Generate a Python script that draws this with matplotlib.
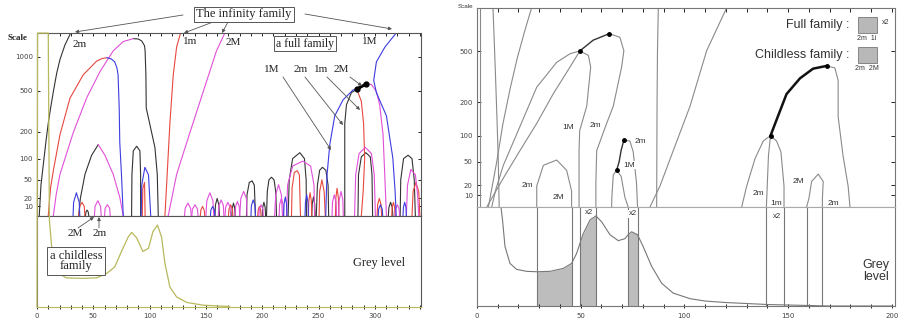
import numpy as np
import matplotlib.pyplot as plt
from matplotlib.patches import Rectangle
from matplotlib.ticker import FixedLocator, MultipleLocator, NullFormatter

W, H = 909, 324
SERIF = 'Liberation Serif'
SANS = 'Liberation Sans'

# ---------------- data: left figure (coloured scale-space) ----------------
scale_ticks_left = [10, 20, 50, 100, 200, 500, 1000]
scale_ticks_right = [10, 20, 50, 100, 200, 500]
grey_ticks_left = [0, 50, 100, 150, 200, 250, 300]
grey_ticks_right = [0, 50, 100, 150, 200]

# each curve: list of (grey level, scale)
left_black = [
    [(2, 0), (3.5, 40), (5.6, 84), (8, 160), (10, 245), (12, 340), (14.5, 490), (17.5, 720), (20.4, 950), (24.8, 1270), (29.9, 1610)],
    [(85.5, 1440), (90, 1430), (93, 1375), (95.5, 1250), (96, 1130), (96.7, 695), (97, 345), (100, 245), (104.7, 136), (106.8, 61), (107.7, 0)],
    [(37, 0), (38.5, 20), (42.6, 61), (48.5, 110), (54.4, 146)],
    [(84, 0), (84.3, 60), (85.5, 124), (88.5, 140), (91.4, 124), (92, 60), (92, 0)],
    [(273.3, 0), (273.3, 100), (273.3, 245), (274.8, 370), (279.2, 480), (284, 515)],
    [(285, 0), (285.5, 60), (288, 105), (292, 118), (296, 105), (297.5, 60), (298, 0)],
    [(322.5, 0), (323, 50), (325.5, 100), (329.5, 110), (333, 100), (335, 50), (336, 0)],
    [(203.8, 0), (204.5, 30), (206, 50), (208.2, 55), (210.5, 50), (212, 30), (212.7, 0)],
    [(223, 0), (224, 50), (227, 100), (233.4, 118), (237.5, 100), (239, 50), (239.3, 0)],
    [(248, 0), (249, 40), (251, 70), (253.5, 77), (256.5, 70), (258.5, 40), (259, 0)],
    [(186, 0), (186.5, 25), (188.5, 45), (191, 48), (193, 40), (194, 0)],
    [(43, 0), (43.5, 4), (44.5, 6), (45.5, 4), (46, 0)],
    [(158, 0), (158.5, 12), (160, 20), (161.5, 12), (162, 0)],
    [(173, 0), (173.4, 8), (174.5, 14), (175.6, 8), (176, 0)],
    [(200, 0), (200.4, 9), (201.5, 15), (202.6, 9), (203, 0)],
    [(244, 0), (244.4, 13), (245.5, 22), (246.6, 13), (247, 0)],
    [(312, 0), (312.5, 9), (314, 15), (315.5, 9), (316, 0)],
]
left_thick = [(284, 515), (288, 545), (292.5, 575)]
left_dots = [(284, 515), (292.5, 575)]

left_red = [
    [(10, 0), (12, 35), (14.5, 69), (20.4, 187), (29.3, 427), (41, 695), (53, 920), (58, 970), (62, 985)],
    [(113.6, 0), (115.6, 61), (118, 245), (121, 695), (124, 1220), (127.5, 1610)],
    [(93.5, 0), (94, 35), (95.5, 45), (96, 0)],
    [(284, 515), (288, 400), (290, 245), (291, 101), (289.6, 29), (288, 0)],
    [(226, 0), (226.5, 35), (228.5, 65), (231, 69), (233, 60), (234, 0)],
    [(250.5, 0), (251, 30), (253, 50), (255, 30), (256, 0)],
    [(333, 0), (334, 30), (336.5, 45), (339, 30), (340, 0)],
    [(37, 0), (38, 10), (40, 15), (42, 10), (42.5, 0)],
    [(145, 0), (145.5, 6), (147, 10), (148.5, 6), (149, 0)],
    [(170, 0), (170.5, 7), (172, 12), (173.5, 7), (174, 0)],
    [(196, 0), (196.4, 6), (197.5, 10), (198.6, 6), (199, 0)],
    [(241, 0), (241.4, 17), (242.5, 28), (243.6, 17), (244, 0)],
    [(265, 0), (265.4, 21), (266.5, 35), (267.6, 21), (268, 0)],
    [(302, 0), (302.5, 12), (304, 20), (305.5, 12), (306, 0)],
    [(315, 0), (315.4, 9), (316.5, 15), (317.6, 9), (318, 0)],
]

left_magenta = [
    [(14.5, 0), (17, 25), (20.4, 61), (32.2, 197), (44, 427), (56, 745), (67.7, 1130), (76.6, 1360), (85.5, 1440)],
    [(116.5, 0), (124, 61), (135.8, 197), (147.6, 490), (159.4, 1130), (166.8, 1610)],
    [(54.4, 146), (60.3, 110), (67.7, 61), (73.6, 21), (76.6, 0)],
    [(292.5, 575), (297, 570), (301.4, 490), (304.3, 370), (307.3, 187), (308.8, 61), (310.3, 0)],
    [(282, 0), (283, 60), (286, 115), (291.5, 136), (297, 115), (299.5, 60), (300.5, 0)],
    [(328, 0), (329, 40), (332, 72), (336, 60), (338, 25), (339, 0)],
    [(221.6, 0), (222.5, 40), (227, 80), (236, 93), (243, 80), (246, 40), (246.5, 0)],
    [(211, 0), (212, 25), (214.5, 41), (217, 25), (218, 0)],
    [(180, 0), (181, 20), (183.5, 30), (186, 20), (186.5, 0)],
    [(51, 0), (51.5, 10), (54, 17), (56.5, 10), (57, 0)],
    [(60, 0), (60.5, 8), (62.5, 12), (64.5, 8), (65, 0)],
    [(131, 0), (131.6, 8), (134, 14), (136.4, 8), (137, 0)],
    [(137.5, 0), (138, 7), (140.3, 12), (142.5, 7), (143, 0)],
    [(150, 0), (150.8, 17), (153.5, 28), (156.2, 17), (157, 0)],
    [(161, 0), (161.5, 11), (163.5, 18), (165.5, 11), (166, 0)],
    [(167, 0), (167.5, 9), (169.5, 15), (171.5, 9), (172, 0)],
    [(176, 0), (176.4, 10), (178, 16), (179.6, 10), (180, 0)],
    [(197, 0), (197.4, 7), (199, 12), (200.6, 7), (201, 0)],
    [(215, 0), (215.4, 12), (217, 20), (218.6, 12), (219, 0)],
    [(262, 0), (262.4, 15), (264, 25), (265.6, 15), (266, 0)],
    [(268, 0), (268.4, 18), (270, 30), (271.6, 18), (272, 0)],
    [(318, 0), (318.4, 7), (320, 12), (321.6, 7), (322, 0)],
]

left_blue = [
    [(62, 985), (66, 960), (69, 905), (71, 800), (72, 695), (73, 345), (73.5, 155), (75, 61), (76.6, 0)],
    [(92.5, 0), (93, 40), (95.8, 77), (99, 60), (101, 0)],
    [(319, 1610), (309, 1220), (301.4, 905), (299, 620), (301.4, 480), (310.3, 290), (316, 101), (318, 30), (319, 0)],
    [(256.4, 0), (257, 30), (257.6, 61), (260, 146), (264.4, 290), (271.8, 412), (280.7, 509), (284, 515)],
    [(32, 0), (32.5, 15), (35, 28), (37.5, 15), (38, 0)],
    [(154, 0), (154.4, 6), (156, 10), (157.6, 6), (158, 0)],
    [(190, 0), (190.4, 11), (192, 18), (193.6, 11), (194, 0)],
    [(219, 0), (219.4, 13), (220.5, 22), (221.6, 13), (222, 0)],
    [(238, 0), (238.4, 15), (239.5, 25), (240.6, 15), (241, 0)],
    [(303, 0), (303.4, 7), (305, 12), (306.6, 7), (307, 0)],
    [(325, 0), (325.4, 9), (326.5, 15), (327.6, 9), (328, 0)],
]

# histogram of the left figure (arbitrary units, 100 = top of lower panel)
hist_left_grey = [0, 0.5, 10, 11, 13, 17.5, 22, 26, 40, 53, 62, 69, 75, 81, 84, 88.5, 94, 99, 103,
                  107, 110.6, 113.6, 118, 124, 133, 147.6, 171]
hist_left_val = [0, 301, 301, 96, 66, 44, 35, 32, 31.5, 32, 37, 44, 61, 77, 82, 76, 61, 64.5, 83,
                 90, 77, 48, 22, 11, 5, 2, 0.5]

# ---------------- data: right figure (grey scale-space) ----------------
right_grey_lines = [
    [(1.4, 0), (1.4, 1018)],
    [(7.7, 1018), (8.3, 600), (9, 300), (9.6, 150), (10.2, 60), (10.7, 0)],
    [(26.3, 1018), (23, 700), (19.5, 450), (16, 260), (12.5, 130), (9.5, 50), (7, 15), (5.5, 0)],
    [(7.1, 0), (9, 15), (12.7, 45), (19.1, 103), (28.8, 266), (38.4, 413), (44.8, 478), (49.6, 502)],
    [(4.7, 0), (12.7, 28), (20.7, 69), (28.8, 131), (36.8, 236), (44.8, 380), (49.6, 502)],
    [(63.8, 670), (68.9, 630), (70.8, 503), (69.7, 380), (65.7, 186), (62.5, 131), (57.7, 69), (57.3, 22), (57.3, 0)],
    [(49.6, 502), (53.7, 465), (54.8, 380), (52.9, 186), (49.5, 112), (49.2, 69), (49.2, 0)],
    [(28.8, 0), (28.8, 19), (32, 45), (38.4, 53), (43.2, 38), (45.6, 14), (45.6, 0)],
    [(70.8, 90), (73.7, 88), (75.3, 67), (76.9, 22), (77.4, 0)],
    [(64.9, 0), (65, 8), (65.7, 32), (67.3, 38), (69.5, 30), (71.3, 8), (72.9, 0)],
    [(87.4, 1018), (87, 500), (86.8, 200), (86.6, 0)],
    [(120.3, 1018), (110.7, 503), (102.7, 186), (94.6, 69), (88.2, 19), (83.4, 0)],
    [(168.5, 388), (172.5, 375), (174.1, 300), (174.1, 150), (176.5, 59), (178.9, 19), (179.8, 0)],
    [(127.6, 0), (130, 19), (134, 55), (138, 88), (141.5, 100), (144.4, 88), (146.5, 67), (148, 19), (148, 0)],
    [(141.5, 100), (140.5, 60), (139.5, 0)],
    [(158.9, 0), (160, 7), (161.3, 24), (164.5, 33), (166.9, 24), (166.5, 7), (166.5, 0)],
]
right_dark_lines = [
    [(49.6, 502), (56, 601), (63.8, 670)],
    [(70.8, 90), (69.5, 70), (68.5, 50), (67.3, 38)],
]
right_thick_line = [(141.5, 100), (144.4, 141), (149.2, 234), (155.7, 312), (162, 370), (168.5, 388)]
right_dots = [(49.6, 502), (63.8, 670), (70.8, 90), (67.3, 38), (141.5, 100), (168.5, 388)]

right_labels = [
    ('1M', 44, 121), ('2m', 57.3, 126), ('2m', 24.3, 20), ('2M', 39.2, 7.5),
    ('2m', 78.6, 88), ('1M', 73.4, 45), ('2M', 154.9, 24), ('2m', 135.6, 12),
    ('1m', 144.4, 3), ('2m', 171.7, 3),
]

hist_right_grey = [0, 10.5, 11, 12.3, 13.5, 15.9, 19.1, 24, 28.8, 35.2, 41.6, 45.6, 48, 49.6, 51.2,
                   54.5, 57.3, 60.1, 64.1, 68.1, 71.3, 72.9, 74.5, 77.4, 80.1, 84.2, 89, 94.6, 102.7,
                   110, 120, 140, 160, 170, 200]
hist_right_val = [130, 130, 110, 87, 60, 43, 37, 35, 34.6, 35, 38, 43, 53, 63, 73,
                  87, 91, 85, 72, 66, 68, 72, 75, 72, 60, 40, 23, 13, 7.4,
                  5, 3.5, 1.5, 0.5, 0, 0]
shaded_bands = [(28.8, 45.6), (49.6, 57.3), (72.9, 77.4)]
band_lines = [28.8, 45.6, 49.6, 57.3, 72.9, 77.4, 139.5, 148, 158.9, 166.5]
x2_labels = [(54, 94), (75, 93), (144.4, 90)]


def to_axis(s):
    return np.log10(np.maximum(np.asarray(s, dtype=float), -49.0) + 50.0)


def from_axis(v):
    return 10.0 ** np.asarray(v, dtype=float) - 50.0


def px_axes(fig, x0, y0, x1, y1):
    return fig.add_axes([x0 / W, 1 - y1 / H, (x1 - x0) / W, (y1 - y0) / H])


def fpos(px, py):
    return (px / W, 1 - py / H)


def draw_curves(ax, curves, color, lw=0.8):
    for c in curves:
        xs, ys = zip(*c)
        ax.plot(xs, ys, color=color, lw=lw, solid_capstyle='round', solid_joinstyle='round')


fig = plt.figure(figsize=(W / 100, H / 100), dpi=100)

# ================= left figure =================
axl = px_axes(fig, 37, 33, 421, 216)
axl.set_yscale('function', functions=(to_axis, from_axis))
axl.set_xlim(0, 341)
axl.set_ylim(0, 1610)
draw_curves(axl, left_black, '#333333')
draw_curves(axl, left_red, '#e8483e')
draw_curves(axl, left_magenta, '#e24fd9')
draw_curves(axl, left_blue, '#3c3ce0')
tx, ty = zip(*left_thick)
axl.plot(tx, ty, color='black', lw=2.2)
dx, dy = zip(*left_dots)
axl.plot(dx, dy, 'o', color='black', ms=3.5)
axl.yaxis.set_major_locator(FixedLocator(scale_ticks_left))
axl.set_yticklabels([str(v) for v in scale_ticks_left])
axl.yaxis.set_minor_locator(FixedLocator([]))
axl.xaxis.set_major_locator(MultipleLocator(10))
axl.xaxis.set_major_formatter(NullFormatter())
axl.tick_params(axis='y', direction='in', length=2.5, width=0.6, labelsize=5,
                labelcolor='#444444', right=True, pad=3)
axl.tick_params(axis='x', direction='in', length=2.5, width=0.6, top=True, bottom=False)
for sp in axl.spines.values():
    sp.set_color('#555555')
    sp.set_linewidth(0.8)

axlh = px_axes(fig, 37, 216, 421, 307)
axlh.set_xlim(0, 341)
axlh.set_ylim(0, 100)
axlh.plot(hist_left_grey, hist_left_val, color='#b8b85c', lw=0.9, clip_on=False, zorder=3)
axlh.xaxis.set_major_locator(FixedLocator(grey_ticks_left))
axlh.xaxis.set_minor_locator(MultipleLocator(10))
axlh.set_yticks([])
axlh.tick_params(axis='x', which='both', direction='inout', length=3, width=0.6,
                 labelsize=5, labelcolor='#444444', pad=3)
for sp in axlh.spines.values():
    sp.set_color('#555555')
    sp.set_linewidth(0.8)
axlh.spines['bottom'].set_color('#b8b85c')
axlh.text(0.89, 0.48, 'Grey level', transform=axlh.transAxes, ha='center', va='center',
          family=SERIF, fontsize=9, color='#222222')

fig.text(*fpos(17, 38), 'Scale', ha='center', va='center', family=SERIF,
         fontsize=6.5, fontweight='bold', color='#222222')

for txt, gx, sv in [('2m', 38, 1290), ('1m', 136, 1350), ('2M', 174, 1330), ('1M', 295.5, 1350)]:
    axl.text(gx, sv, txt, ha='center', va='center', family=SERIF, fontsize=8, color='#222222')

fig.text(*fpos(244, 14.5), 'The infinity family', ha='center', va='center', family=SERIF,
         fontsize=9, color='#222222',
         bbox=dict(boxstyle='square,pad=0.15', fc='white', ec='#555555', lw=0.7))
fig.text(*fpos(305, 43.5), 'a full family', ha='center', va='center', family=SERIF,
         fontsize=8.5, color='#222222',
         bbox=dict(boxstyle='square,pad=0.15', fc='white', ec='#555555', lw=0.7))
for txt, px in [('1M', 272), ('2m', 301), ('1m', 321), ('2M', 341)]:
    fig.text(*fpos(px, 70), txt, ha='center', va='center', family=SERIF,
             fontsize=8, color='#222222')
fig.text(*fpos(76, 261), 'a childless\nfamily', ha='center', va='center', family=SERIF,
         fontsize=9, color='#222222', linespacing=0.85,
         bbox=dict(boxstyle='square,pad=0.2', fc='white', ec='#555555', lw=0.7))
for txt, px in [('2M', 75), ('2m', 100)]:
    fig.text(*fpos(px, 233), txt, ha='center', va='center', family=SERIF,
             fontsize=8, color='#222222')

arrows_left = [
    ((183, 15), (75, 32)), ((213, 22), (184, 33)), ((228, 22), (222, 33)), ((305, 14), (392, 29)),
    ((283, 77), (331, 150)), ((305, 77), (343, 125)), ((327, 77), (360, 110)), ((350, 77), (362, 86)),
    ((78, 228), (94, 217)), ((99, 228), (99, 217)),
]
for start, end in arrows_left:
    fig.add_artist(plt.Annotation('', xy=fpos(*end), xytext=fpos(*start),
                                  xycoords='figure fraction', textcoords='figure fraction',
                                  arrowprops=dict(arrowstyle='-|>', color='#555555', lw=0.6,
                                                  mutation_scale=5, shrinkA=0, shrinkB=0)))

# ================= right figure =================
axr = px_axes(fig, 477, 8, 895, 207)
axr.set_yscale('function', functions=(to_axis, from_axis))
axr.set_xlim(0, 201.5)
axr.set_ylim(0, 1018)
draw_curves(axr, right_grey_lines, '#8a8a8a', lw=0.8)
draw_curves(axr, right_dark_lines, '#333333', lw=1.0)
tx, ty = zip(*right_thick_line)
axr.plot(tx, ty, color='#111111', lw=1.8, solid_capstyle='round')
dx, dy = zip(*right_dots)
axr.plot(dx, dy, 'o', color='black', ms=2.5)
for txt, gx, sv in right_labels:
    axr.text(gx, sv, txt, ha='center', va='center', family=SANS, fontsize=6,
             color='#333333', bbox=dict(boxstyle='square,pad=0.05', fc='white', ec='none'))
axr.yaxis.set_major_locator(FixedLocator(scale_ticks_right))
axr.set_yticklabels([str(v) for v in scale_ticks_right])
axr.yaxis.set_minor_locator(FixedLocator([]))
axr.xaxis.set_major_locator(MultipleLocator(10))
axr.xaxis.set_major_formatter(NullFormatter())
axr.tick_params(axis='y', direction='in', length=3, width=0.6, labelsize=5,
                labelcolor='#444444', right=True, pad=3)
axr.tick_params(axis='x', direction='in', length=3, width=0.6, top=True, bottom=False)
for sp in axr.spines.values():
    sp.set_color('#777777')
    sp.set_linewidth(0.8)
axr.spines['bottom'].set_color('#aaaaaa')

fig.text(*fpos(466, 6), 'Scale', ha='center', va='center', family=SANS, fontsize=4.5,
         color='#333333')

# legend boxes
fig.text(*fpos(849, 25), 'Full family :', ha='right', va='center', family=SANS,
         fontsize=9, color='#333333')
fig.text(*fpos(849, 55), 'Childless family :', ha='right', va='center', family=SANS,
         fontsize=9, color='#333333')
for py0 in (17, 47):
    x0, y0 = fpos(858, py0 + 16)
    fig.add_artist(Rectangle((x0, y0), 19 / W, 16 / H, transform=fig.transFigure,
                             fc='#b8b8b8', ec='#777777', lw=0.6))
fig.text(*fpos(886, 23), 'x2', ha='center', va='center', family=SANS, fontsize=5, color='#333333')
fig.text(*fpos(867, 38), '2m  1i', ha='center', va='center', family=SANS, fontsize=5, color='#333333')
fig.text(*fpos(867, 68), '2m  2M', ha='center', va='center', family=SANS, fontsize=5, color='#333333')

axrh = px_axes(fig, 477, 207, 895, 306)
axrh.set_xlim(0, 201.5)
axrh.set_ylim(0, 100)
hx = np.array(hist_right_grey)
hy = np.array(hist_right_val)
for lo, hi in shaded_bands:
    m = (hx >= lo) & (hx <= hi)
    axrh.fill_between(hx[m], 0, np.minimum(hy[m], 100), color='#bdbdbd', lw=0)
for g in band_lines:
    axrh.axvline(g, color='#777777', lw=0.8)
axrh.plot(hx, hy, color='#777777', lw=0.8)
for gx, v in x2_labels:
    axrh.text(gx, v, 'x2', ha='center', va='center', family=SANS, fontsize=5.5,
              color='#333333', bbox=dict(boxstyle='square,pad=0.1', fc='white', ec='none'))
axrh.xaxis.set_major_locator(FixedLocator(grey_ticks_right))
axrh.xaxis.set_minor_locator(MultipleLocator(10))
axrh.set_yticks([])
axrh.tick_params(axis='x', which='both', direction='inout', length=3.5, width=0.6,
                 labelsize=5, labelcolor='#444444', pad=3)
for sp in axrh.spines.values():
    sp.set_color('#777777')
    sp.set_linewidth(0.8)
axrh.spines['top'].set_color('#aaaaaa')
axrh.text(0.955, 0.35, 'Grey\nlevel', transform=axrh.transAxes, ha='center', va='center',
          family=SANS, fontsize=9, color='#333333', linespacing=1.0)

fig.savefig('out.png', dpi=100)
